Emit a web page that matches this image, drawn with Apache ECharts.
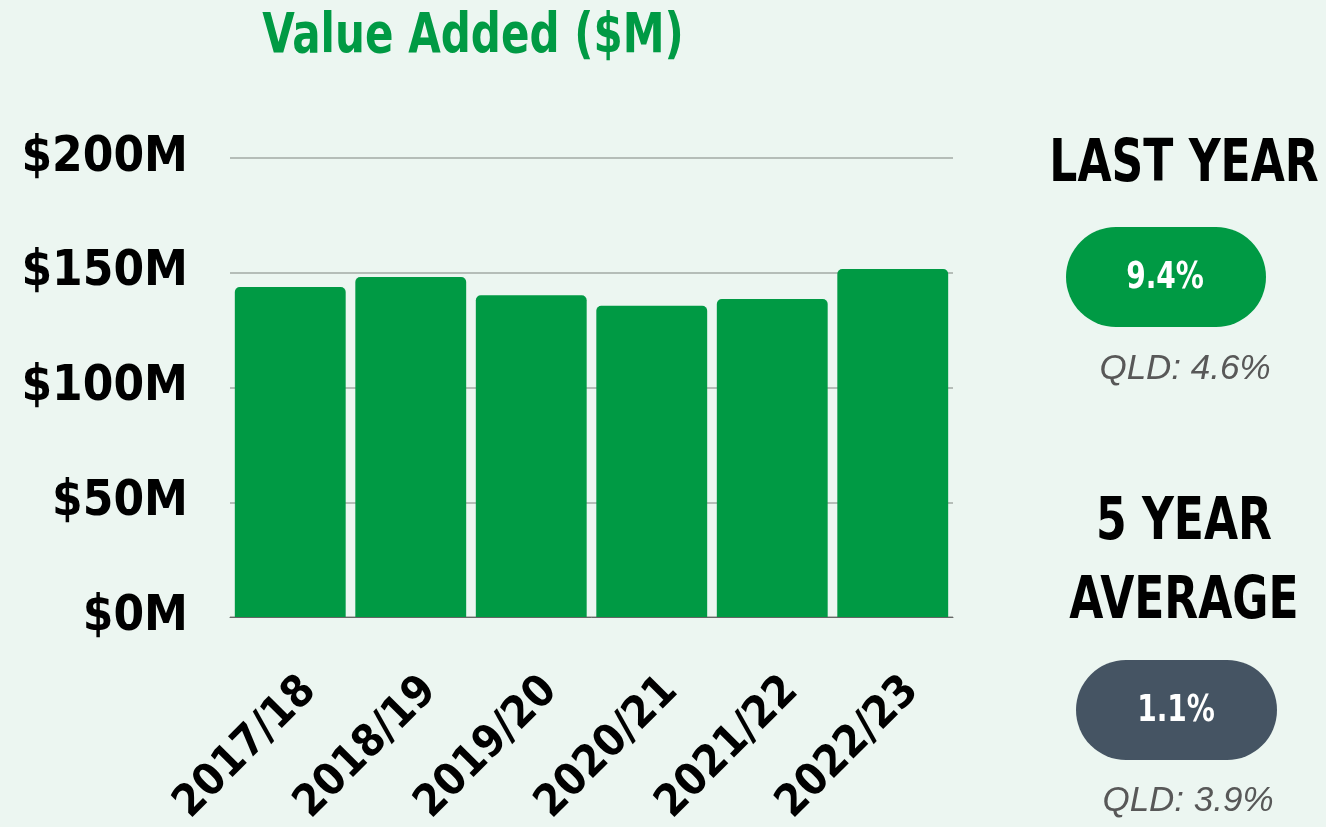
<!DOCTYPE html>
<html>
<head>
<meta charset="utf-8">
<script src="https://cdn.jsdelivr.net/npm/echarts@6/dist/echarts.min.js"></script>
<style>
html, body { margin: 0; padding: 0; background: #ecf6f1; }
#main { width: 1326px; height: 827px; }
</style>
</head>
<body>
<div id="main"></div>
<script>
/* data */
var years = ['2017/18', '2018/19', '2019/20', '2020/21', '2021/22', '2022/23'];
var valueAdded = [143.8, 148.1, 140.2, 135.6, 138.6, 151.6];
var yTicks = [0, 50, 100, 150, 200];
var lastYear = '9.4%';
var lastYearQld = 'QLD: 4.6%';
var fiveYear = '1.1%';
var fiveYearQld = 'QLD: 3.9%';

/* styles */
var narrow = "'Liberation Sans Narrow', 'DejaVu Sans Condensed', sans-serif";
var green = '#009a44';
var slate = '#455463';
var squeeze = 0.83; // condensed look for the big headings

function heading(txt, x, y, size, color, sx) {
	return {
		type: 'text', x: x, y: y, scaleX: sx || squeeze,
		style: { text: txt, align: 'center', verticalAlign: 'middle', fill: color, font: 'bold ' + size + 'px ' + narrow }
	};
}

function note(txt, x, y) {
	return {
		type: 'text', x: x, y: y,
		style: { text: txt, align: 'center', verticalAlign: 'middle', fill: '#585858', font: 'italic 35px "Liberation Sans", Arial, sans-serif' }
	};
}

var chart = echarts.init(document.getElementById('main'));

var option = {
	backgroundColor: '#ecf6f1',
	animation: false,
	grid: { left: 230, right: 373, top: 158, bottom: 210, outerBoundsMode: 'none', containLabel: false },
	xAxis: {
		type: 'category',
		data: years,
		axisTick: { show: false },
		axisLine: { lineStyle: { color: '#666', width: 1 } },
		axisLabel: {
			rotate: 45,
			margin: 48,
			verticalAlign: 'top',
			lineHeight: 54,
			color: '#000',
			fontFamily: narrow,
			fontWeight: 'bold',
			fontSize: 44
		}
	},
	yAxis: {
		type: 'value',
		min: yTicks[0],
		max: yTicks[yTicks.length - 1],
		interval: 50,
		axisLabel: {
			margin: 42,
			color: '#000',
			fontFamily: narrow,
			fontWeight: 'bold',
			fontSize: 49,
			formatter: function (v) { return '$' + v + 'M'; }
		},
		splitLine: { lineStyle: { color: '#b5bdb8', width: 2 } }
	},
	series: [{
		type: 'bar',
		data: valueAdded,
		barCategoryGap: '8%',
		itemStyle: { color: green, borderRadius: [5, 5, 0, 0] }
	}],
	graphic: [
		heading('Value Added ($M)', 473, 38, 55, green, 0.85),
		heading('LAST YEAR', 1184, 166, 59, '#000'),
		{ type: 'rect', shape: { x: 1066, y: 227, width: 200, height: 100, r: 50 }, style: { fill: green } },
		heading(lastYear, 1165, 278, 38, '#fff', 0.82),
		note(lastYearQld, 1185, 369),
		heading('5 YEAR', 1184, 524, 59, '#000'),
		heading('AVERAGE', 1184, 603, 59, '#000'),
		{ type: 'rect', shape: { x: 1076, y: 660, width: 201, height: 100, r: 50 }, style: { fill: slate } },
		heading(fiveYear, 1176, 711, 38, '#fff', 0.82),
		note(fiveYearQld, 1188, 801)
	]
};

chart.setOption(option);
</script>
</body>
</html>
